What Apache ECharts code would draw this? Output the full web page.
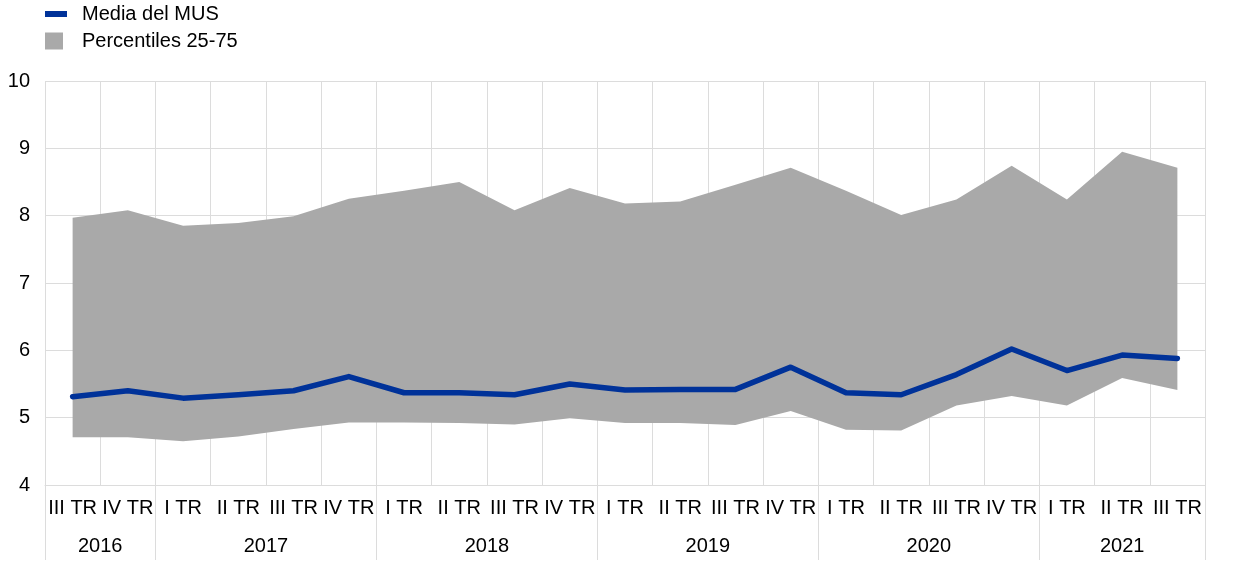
<!DOCTYPE html>
<html>
<head>
<meta charset="utf-8">
<script src="https://cdn.jsdelivr.net/npm/echarts@6/dist/echarts.min.js"></script>
<style>html,body{margin:0;padding:0;background:#fff}#c{width:1240px;height:564px}</style>
</head>
<body>
<div id="c"></div>
<script>
var quarters = ['III TR','IV TR','I TR','II TR','III TR','IV TR','I TR','II TR','III TR','IV TR','I TR','II TR','III TR','IV TR','I TR','II TR','III TR','IV TR','I TR','II TR','III TR'];
var years = ['2016','2017','2018','2019','2020','2021'];
var quartersPerYear = [2,4,4,4,4,3];
var median = [5.31,5.40,5.29,5.34,5.40,5.61,5.37,5.37,5.34,5.50,5.41,5.42,5.42,5.75,5.37,5.34,5.64,6.02,5.70,5.93,5.88];
var p25 = [4.71,4.71,4.65,4.72,4.83,4.93,4.93,4.92,4.90,4.99,4.92,4.92,4.89,5.10,4.82,4.81,5.18,5.32,5.18,5.59,5.41];
var p75 = [7.97,8.08,7.85,7.89,7.99,8.25,8.37,8.50,8.08,8.41,8.18,8.21,8.46,8.71,8.37,8.01,8.24,8.74,8.24,8.95,8.71];
var yTicks = [4,5,6,7,8,9,10];

var FONT = 'Liberation Sans, Arial, sans-serif';
var FS = 20;
var GRIDC = '#dcdcdc';

// second axis: half-category positions for year labels and year boundaries
var nHalf = quarters.length * 2 + 1;
var yearLabels = [], boundaries = {};
var acc = 0;
boundaries[0] = true;
for (var i = 0; i < years.length; i++) {
  var mid = acc + quartersPerYear[i];
  yearLabels[mid] = years[i];
  acc += quartersPerYear[i] * 2;
  boundaries[acc] = true;
}
var halfCats = [];
for (var k = 0; k < nHalf; k++) halfCats.push(yearLabels[k] || '');

var band = p75.map(function (v, i) { return +(v - p25[i]).toFixed(3); });

var chart = echarts.init(document.getElementById('c'));
chart.setOption({
  animation: false,
  textStyle: { fontFamily: FONT },
  grid: { left: 45, right: 35, top: 81, bottom: 79 },
  legend: [
    { left: 45, top: 4, padding: 0, itemWidth: 22, itemHeight: 6, icon: 'rect',
      data: ['Media del MUS'],
      textStyle: { fontSize: FS, color: '#000', fontFamily: FONT, padding: [0,0,0,10] } },
    { left: 45, top: 31, padding: 0, itemWidth: 18, itemHeight: 17, icon: 'rect',
      data: ['Percentiles 25-75'],
      textStyle: { fontSize: FS, color: '#000', fontFamily: FONT, padding: [0,0,0,14] } }
  ],
  xAxis: [
    { type: 'category', data: quarters, boundaryGap: true,
      axisLine: { show: true, lineStyle: { color: GRIDC, width: 1 } },
      axisTick: { show: false },
      axisLabel: { interval: 0, fontSize: FS, color: '#000', margin: 13, fontFamily: FONT },
      splitLine: { show: true, interval: 0, lineStyle: { color: GRIDC, width: 1 } } },
    { type: 'category', data: halfCats, boundaryGap: false, position: 'bottom',
      axisLine: { show: false },
      axisTick: { show: true, length: 75, interval: function (idx) { return !!boundaries[idx]; },
        lineStyle: { color: GRIDC, width: 1 } },
      axisLabel: { interval: 0, fontSize: FS, color: '#000', margin: 51, fontFamily: FONT },
      splitLine: { show: false } }
  ],
  yAxis: {
    type: 'value', min: yTicks[0], max: yTicks[yTicks.length - 1], interval: 1,
    axisLine: { show: false }, axisTick: { show: false },
    axisLabel: { fontSize: FS, color: '#000', margin: 15, fontFamily: FONT },
    splitLine: { show: true, lineStyle: { color: GRIDC, width: 1 } }
  },
  series: [
    { name: 'p25', type: 'line', stack: 'band', data: p25, symbol: 'none',
      lineStyle: { width: 0, opacity: 0 }, silent: true },
    { name: 'Percentiles 25-75', type: 'line', stack: 'band', data: band, symbol: 'none',
      lineStyle: { width: 0, opacity: 0 }, itemStyle: { color: '#a9a9a9' },
      areaStyle: { color: '#a9a9a9', opacity: 1 } },
    { name: 'Media del MUS', type: 'line', data: median, symbol: 'none',
      itemStyle: { color: '#003299' },
      lineStyle: { color: '#003299', width: 5.5, cap: 'round', join: 'round' }, z: 5 }
  ]
});
</script>
</body>
</html>
